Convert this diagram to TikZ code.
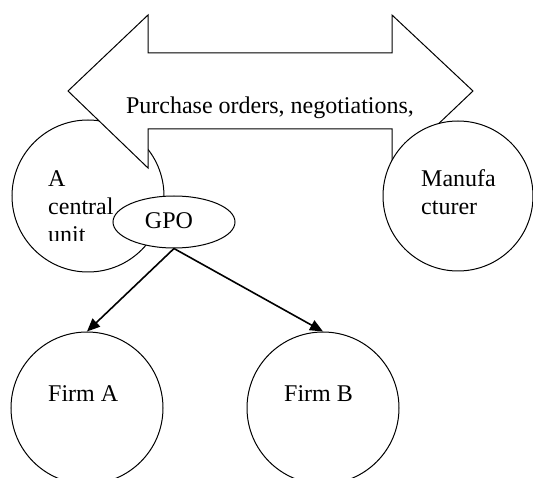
\documentclass[tikz,border=0pt]{standalone}
\usepackage{fontspec}
\setmainfont{Liberation Serif}
\usetikzlibrary{arrows.meta,positioning,calc,shapes.geometric}

\begin{document}
\begin{tikzpicture}[
  x=1pt, y=-1pt,
  font=\fontsize{24}{29}\selectfont,
  party/.style={circle, draw, line width=1pt, fill=white, minimum size=152pt, inner sep=0pt},
  gpo/.style={ellipse, draw, line width=1pt, fill=white, minimum width=122pt, minimum height=52pt, inner sep=0pt},
  txt/.style={anchor=base west, inner sep=0pt},
  arrow/.style={-{Triangle[length=13pt,width=11pt]}, line width=1.6pt},
]
\useasboundingbox (0,0) rectangle (533,478);

% --- Left: central unit ---
\node[party] (central) at (88,196) {};
\node[txt] (centralA) at (48,187) {A};
\node[txt] (centralB) at (48,215) {central};
\begin{scope}
  \clip (0,0) rectangle (533,241);
  \node[txt] (centralC) at (48,243) {unit};
\end{scope}

% --- Top: two-way flow ---
\draw[line width=1pt, fill=white] (68,91) -- (148,15) -- (148,53) -- (392,53) -- (392,15)
  -- (473,91) -- (392,168) -- (392,129) -- (148,129) -- (148,168) -- cycle;
\node[anchor=base, inner sep=0pt] (flow) at (270,114) {Purchase orders, negotiations,};

% --- Right: Manufacturer ---
\node[party, minimum size=150pt] (maker) at (458,196) {};
\node[txt] (makerA) at (421,187) {Manufa};
\node[txt] (makerB) at (421,215) {cturer};

% --- GPO ---
\node[gpo] (gpo) at (174,222) {};
\node[anchor=base, inner sep=0pt] (gpotext) at (169,229) {GPO};

% --- Bottom: firms ---
\node[party] (firmA) at (87,408) {};
\node[txt] (firmAtext) at (48,402) {Firm A};
\node[party] (firmB) at (323,408) {};
\node[txt] (firmBtext) at (284,402) {Firm B};

% --- GPO to firms ---
\draw[arrow] (gpo.south) -- (firmA.north);
\draw[arrow] (gpo.south) -- (firmB.north);

\end{tikzpicture}
\end{document}
